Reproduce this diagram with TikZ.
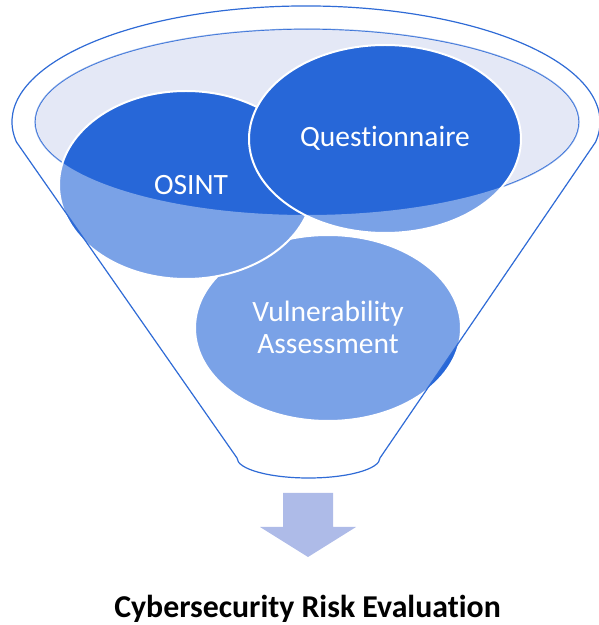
\documentclass[tikz,border=0pt]{standalone}
\usepackage{fontspec}
\setmainfont{Carlito}[Ligatures=NoCommon]
\usetikzlibrary{positioning}
\definecolor{funnelblue}{RGB}{47,107,214}
\definecolor{discblue}{RGB}{39,103,216}
\definecolor{rimfill}{RGB}{228,232,246}
\definecolor{arrowfill}{RGB}{174,187,232}

\begin{document}
\begin{tikzpicture}[x=1pt,y=1pt,
    rim/.style={draw=funnelblue,line width=1.2pt},
    disc/.style={fill=discblue,draw=white,line width=2pt},
    disctext/.style={text=white,font=\fontsize{29.5}{32}\selectfont,align=center}]
    \useasboundingbox (0,0) rectangle (599,625);
    \def\funnelpath{(16.5,482.9) arc[start angle=190,end angle=-10,x radius=294,y radius=116]
      -- (380,167) arc[start angle=0,end angle=-180,x radius=71.5,y radius=20] -- cycle}
    \fill[white] \funnelpath;
    \fill[rimfill,rim] (307,503) ellipse [x radius=272,y radius=93];
    % the three sources
    \draw[disc] (328,297) ellipse [x radius=133,y radius=93];
    \draw[disc] (186,440) ellipse [x radius=127,y radius=94];
    \draw[disc] (385,486) ellipse [x radius=136,y radius=94];
    \fill[white,opacity=0.39,even odd rule] \funnelpath (307,503) ellipse [x radius=272,y radius=93];
    \draw[rim] \funnelpath;
    \node[disctext] (osint) at (191,440) {OSINT};
    \node[disctext] (quest) at (385,487) {Questionnaire};
    \node[disctext] (vuln) at (328,298) {Vulnerability\\Assessment};
    % result
    \fill[arrowfill] (283,132) -- (333,132) -- (333,98) -- (356,98) -- (308,68) -- (260,98) -- (283,98) -- cycle;
    \node[font=\bfseries\fontsize{31.8}{36}\selectfont,anchor=base] (result) at (307.5,7) {Cybersecurity Risk Evaluation};
  \end{tikzpicture}
\end{document}
